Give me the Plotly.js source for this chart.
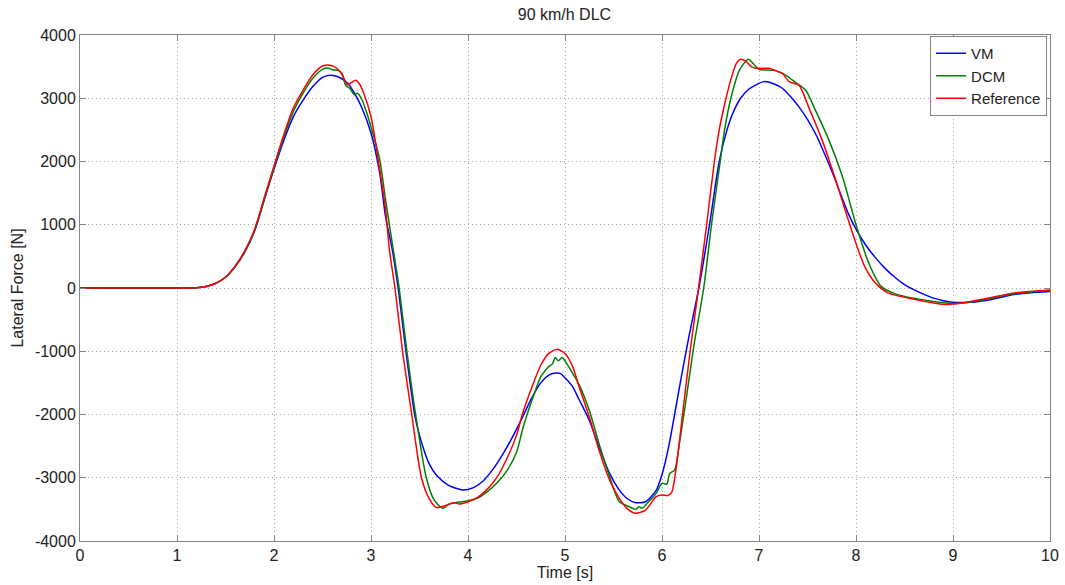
<!DOCTYPE html>
<html>
<head>
<meta charset="utf-8">
<script src="https://cdn.plot.ly/plotly-3.0.1.min.js"></script>
<style>
  html, body { margin: 0; padding: 0; background: #fff; }
  #chart { width: 1065px; height: 585px; }
</style>
</head>
<body>
<div id="chart"></div>
<script>
// Lateral force during a 90 km/h double lane change, three models.

const vmTime = [0, 1.0, 1.2, 1.3, 1.4, 1.5, 1.6, 1.7, 1.8, 1.9, 2.0, 2.1, 2.2, 2.3, 2.4, 2.5, 2.58, 2.66, 2.76, 2.83, 2.9, 3.0, 3.09, 3.15, 3.22, 3.28, 3.36, 3.45, 3.5, 3.55, 3.6, 3.68, 3.8, 3.95, 4.05, 4.15, 4.25, 4.35, 4.45, 4.55, 4.65, 4.75, 4.83, 4.9, 4.95, 5.0, 5.08, 5.14, 5.25, 5.35, 5.46, 5.56, 5.65, 5.73, 5.83, 5.94, 6.0, 6.07, 6.13, 6.2, 6.28, 6.38, 6.49, 6.59, 6.67, 6.73, 6.81, 6.9, 7.05, 7.15, 7.24, 7.41, 7.58, 7.75, 7.92, 8.0, 8.1, 8.2, 8.3, 8.4, 8.5, 8.6, 8.7, 8.8, 8.9, 9.0, 9.19, 9.4, 9.63, 9.8, 10.0];
const vmForce = [0, 0, 5, 25, 75, 170, 340, 570, 900, 1400, 1880, 2330, 2710, 2970, 3184, 3330, 3365, 3340, 3237, 3079, 2870, 2450, 1815, 1130, 600, 0, -1000, -2000, -2330, -2580, -2780, -2970, -3120, -3195, -3160, -3060, -2880, -2650, -2380, -2080, -1760, -1500, -1380, -1345, -1350, -1420, -1563, -1747, -2089, -2510, -2932, -3195, -3340, -3395, -3379, -3200, -2950, -2500, -2000, -1400, -750, 0, 1000, 2000, 2500, 2763, 3000, 3150, 3263, 3230, 3158, 2868, 2447, 1850, 1180, 930, 680, 480, 310, 170, 55, -30, -100, -160, -200, -224, -224, -180, -104, -75, -55];

const dcmTime = [0, 1.0, 1.2, 1.3, 1.4, 1.5, 1.6, 1.7, 1.8, 1.9, 2.0, 2.1, 2.2, 2.3, 2.4, 2.5, 2.55, 2.6, 2.66, 2.7, 2.74, 2.78, 2.83, 2.86, 2.9, 2.95, 3.0, 3.09, 3.15, 3.23, 3.29, 3.37, 3.46, 3.57, 3.65, 3.74, 3.8, 3.85, 4.0, 4.1, 4.2, 4.3, 4.4, 4.5, 4.56, 4.62, 4.7, 4.75, 4.8, 4.83, 4.87, 4.9, 4.93, 4.97, 5.0, 5.08, 5.14, 5.25, 5.35, 5.46, 5.56, 5.65, 5.73, 5.76, 5.8, 5.83, 5.94, 6.0, 6.05, 6.08, 6.13, 6.18, 6.25, 6.33, 6.43, 6.51, 6.6, 6.645, 6.71, 6.8, 6.89, 6.95, 7.0, 7.17, 7.27, 7.38, 7.48, 7.58, 7.72, 7.86, 8.0, 8.13, 8.26, 8.4, 8.78, 9.05, 9.3, 9.63, 10.0];
const dcmForce = [0, 0, 5, 25, 75, 170, 340, 580, 910, 1400, 1900, 2380, 2790, 3080, 3316, 3458, 3480, 3450, 3440, 3395, 3200, 3160, 3053, 3080, 3000, 2800, 2550, 2030, 1395, 600, 0, -1000, -2000, -3000, -3350, -3484, -3420, -3400, -3363, -3320, -3220, -3080, -2890, -2600, -2250, -1950, -1600, -1400, -1300, -1247, -1200, -1100, -1150, -1100, -1153, -1353, -1511, -1932, -2458, -2984, -3379, -3450, -3500, -3460, -3480, -3432, -3247, -3089, -3100, -2932, -2879, -2450, -1750, -900, 0, 1000, 2000, 2500, 3000, 3450, 3616, 3530, 3458, 3437, 3368, 3247, 3131, 2816, 2342, 1763, 1000, 400, 26, -89, -208, -245, -190, -90, -40];

const refTime = [0, 1.0, 1.2, 1.3, 1.4, 1.5, 1.6, 1.7, 1.8, 1.9, 2.0, 2.1, 2.2, 2.3, 2.4, 2.5, 2.58, 2.65, 2.7, 2.76, 2.8, 2.84, 2.88, 2.92, 3.0, 3.09, 3.15, 3.19, 3.247, 3.325, 3.42, 3.52, 3.6, 3.67, 3.75, 3.85, 3.91, 4.0, 4.1, 4.2, 4.3, 4.4, 4.5, 4.56, 4.66, 4.75, 4.83, 4.92, 5.0, 5.08, 5.14, 5.25, 5.35, 5.46, 5.56, 5.65, 5.73, 5.83, 5.94, 6.0, 6.06, 6.1, 6.15, 6.2, 6.29, 6.377, 6.46, 6.54, 6.59, 6.66, 6.72, 6.77, 6.81, 6.86, 6.92, 6.97, 7.1, 7.2, 7.24, 7.31, 7.41, 7.45, 7.51, 7.65, 7.79, 7.92, 8.0, 8.09, 8.2, 8.33, 8.61, 8.91, 9.05, 9.29, 9.63, 10.0];
const refForce = [0, 0, 5, 25, 75, 170, 350, 590, 930, 1430, 1930, 2420, 2850, 3130, 3370, 3510, 3520, 3470, 3380, 3210, 3250, 3285, 3230, 3100, 2710, 1870, 1240, 600, 0, -1000, -2000, -3000, -3330, -3468, -3450, -3395, -3416, -3380, -3310, -3180, -2990, -2700, -2330, -2000, -1563, -1221, -1037, -968, -1037, -1247, -1537, -2037, -2563, -3037, -3326, -3500, -3563, -3511, -3300, -3274, -3280, -3230, -2800, -2150, -1000, 0, 1000, 2000, 2500, 3000, 3350, 3560, 3616, 3590, 3500, 3474, 3474, 3420, 3395, 3263, 3210, 3100, 2868, 2342, 1710, 1079, 703, 339, 78, -78, -182, -260, -245, -182, -78, -30];

const seriesNames = ['VM', 'DCM', 'Reference'];
const seriesColors = ['#0000ff', '#008000', '#ff0000'];

const xTicks = [0, 1, 2, 3, 4, 5, 6, 7, 8, 9, 10];
const yTicks = [-4000, -3000, -2000, -1000, 0, 1000, 2000, 3000, 4000];

const FONT = 'Liberation Sans, Arial, sans-serif';

const traces = [[vmTime, vmForce], [dcmTime, dcmForce], [refTime, refForce]].map((d, i) => ({
  x: d[0],
  y: d[1],
  name: seriesNames[i],
  type: 'scatter',
  mode: 'lines',
  line: { color: seriesColors[i], width: 1.5, shape: 'spline', smoothing: 0.7 }
}));

const axisCommon = {
  showline: true,
  mirror: 'ticks',
  linecolor: '#858585',
  linewidth: 1,
  ticks: 'inside',
  ticklen: 6,
  tickcolor: '#858585',
  showgrid: true,
  gridcolor: '#a8a8a8',
  griddash: '1px,3px',
  gridwidth: 1,
  zeroline: false,
  tickfont: { family: FONT, size: 16, color: '#222' }
};

const layout = {
  width: 1065,
  height: 585,
  margin: { l: 80, r: 15, t: 35, b: 44 },
  paper_bgcolor: '#ffffff',
  plot_bgcolor: '#ffffff',
  title: { text: '90 km/h DLC', font: { family: FONT, size: 16, color: '#222' }, x: 0.53, xanchor: 'center', y: 0.975, yanchor: 'middle' },
  xaxis: Object.assign({}, axisCommon, {
    range: [0, 10],
    tickvals: xTicks,
    ticktext: xTicks.map(String),
    title: { text: 'Time [s]', font: { family: FONT, size: 16, color: '#222' }, standoff: 1 }
  }),
  yaxis: Object.assign({}, axisCommon, {
    range: [-4000, 4000],
    tickvals: yTicks,
    ticktext: yTicks.map(String),
    title: { text: 'Lateral Force [N]', font: { family: FONT, size: 16, color: '#222' }, standoff: 7 }
  }),
  legend: {
    x: 0.997, xanchor: 'right',
    y: 0.998, yanchor: 'top',
    bgcolor: '#ffffff',
    bordercolor: '#858585',
    borderwidth: 1,
    font: { family: FONT, size: 15, color: '#222' },
    tracegroupgap: 0,
    itemwidth: 30
  },
  showlegend: true
};

Plotly.newPlot('chart', traces, layout, { displayModeBar: false, staticPlot: true });
</script>
</body>
</html>
